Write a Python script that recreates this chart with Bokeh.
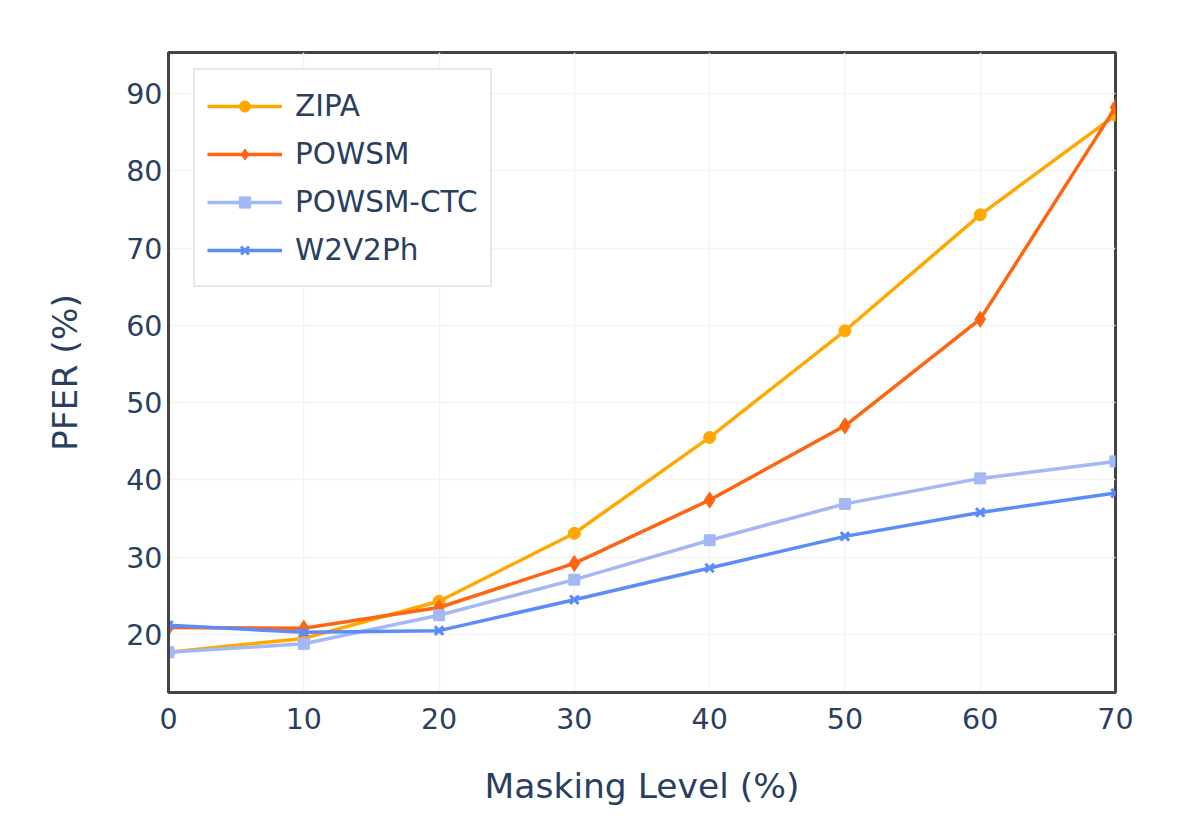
from bokeh.plotting import figure
from bokeh.models import Range1d, FixedTicker, Legend, LegendItem
from bokeh.embed import file_html
from bokeh.resources import INLINE

# Data
masking = [0, 10, 20, 30, 40, 50, 60, 70]
zipa = [17.7, 19.5, 24.3, 33.1, 45.5, 59.3, 74.3, 87.2]
powsm = [20.9, 20.8, 23.5, 29.2, 37.4, 47.0, 60.8, 88.2]
powsm_ctc = [17.7, 18.8, 22.5, 27.1, 32.2, 36.9, 40.2, 42.4]
w2v2ph = [21.2, 20.3, 20.5, 24.5, 28.6, 32.7, 35.8, 38.3]

series = [
    ("ZIPA", zipa, "#FFA800", "circle", 12),
    ("POWSM", powsm, "#FF6411", "diamond", 16),
    ("POWSM-CTC", powsm_ctc, "#A3B8F4", "square", 11),
    ("W2V2Ph", w2v2ph, "#5B8CF7", "x", 12),
]

text_color = "#2a3f5f"
font = "DejaVu Sans"

p = figure(width=1184, height=820,
           x_range=Range1d(0, 70), y_range=Range1d(12.5, 95.3),
           output_backend="svg", toolbar_location=None,
           min_border_left=168, min_border_right=69,
           min_border_top=52, min_border_bottom=128)

p.background_fill_color = "white"
p.border_fill_color = "white"
p.outline_line_color = "#444444"
p.outline_line_width = 3

p.xgrid.grid_line_color = "#f3f3f3"
p.ygrid.grid_line_color = "#f3f3f3"
p.xgrid.grid_line_width = 1.5
p.ygrid.grid_line_width = 1.5

p.xaxis.ticker = FixedTicker(ticks=masking)
p.yaxis.ticker = FixedTicker(ticks=[20, 30, 40, 50, 60, 70, 80, 90])

for ax in (p.xaxis, p.yaxis):
    ax.axis_line_color = "#444444"
    ax.axis_line_width = 3
    ax.major_tick_line_color = None
    ax.minor_tick_line_color = None
    ax.major_tick_out = 0
    ax.major_tick_in = 0
    ax.major_label_text_font = font
    ax.major_label_text_font_size = "28.5px"
    ax.major_label_text_color = text_color
    ax.axis_label_text_font = font
    ax.axis_label_text_font_size = "34.5px"
    ax.axis_label_text_font_style = "normal"
    ax.axis_label_text_color = text_color

p.xaxis.axis_label = "Masking Level (%)"
p.yaxis.axis_label = "PFER (%)"
p.xaxis.major_label_standoff = 15
p.yaxis.major_label_standoff = 6
p.xaxis.axis_label_standoff = 34
p.yaxis.axis_label_standoff = 38

items = []
for name, vals, color, marker, size in series:
    ln = p.line(masking, vals, line_color=color, line_width=3.5)
    if marker == "x":
        sc = p.scatter(masking, vals, marker=marker, size=size,
                       line_color=color, line_width=3)
    else:
        sc = p.scatter(masking, vals, marker=marker, size=size,
                       fill_color=color, line_color=color)
    items.append(LegendItem(label=name, renderers=[ln, sc]))

legend = Legend(items=items, location=(25, 405))
legend.margin = 0
legend.padding = 12
legend.spacing = 1
legend.glyph_width = 75
legend.glyph_height = 28
legend.label_height = 47
legend.label_standoff = 13
legend.label_text_font = font
legend.label_text_font_size = "29.5px"
legend.label_text_color = text_color
legend.border_line_color = "#cfcfcf"
legend.border_line_width = 2
legend.background_fill_color = "white"
legend.background_fill_alpha = 1.0
p.add_layout(legend, "center")

open("out.html", "w").write(file_html(p, INLINE))
